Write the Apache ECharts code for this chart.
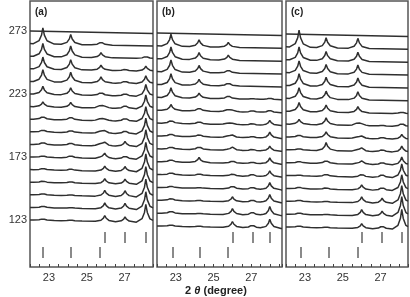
<!DOCTYPE html>
<html><head><meta charset="utf-8">
<script src="https://cdn.jsdelivr.net/npm/echarts@6/dist/echarts.min.js"></script>
<style>html,body{margin:0;padding:0;background:#fff}#c{width:410px;height:297px}</style>
</head><body><div id="c"></div>
<script>
// ---------------- DATA ----------------
const temps = [273,263,253,243,233,223,213,203,193,183,173,163,153,143,133,123];
const yTickLabels = [123,173,223,273];
const xTickLabels = [23,25,27];
const panelNames = ['(a)','(b)','(c)'];
const xTitle = '2 θ (degree)';

// panel (a): peak positions (deg) and peak heights per temperature (top -> bottom)
const aPos = [22.68, 24.15, 25.75, 25.95, 27.02, 28.12];
const aP1 = [0,16,13,12,12, 8, 5, 4, 3, 3, 2, 2, 2, 2, 2, 2];
const aP2 = [0,10,11,10,10, 7, 5, 4, 3, 3, 3, 2, 2, 1, 1, 1];
const aP3 = [0, 4, 5, 5, 6, 4, 4, 3, 3, 3, 1, 0, 0, 0, 0, 0];
const aP4 = [0, 0, 0, 0, 0, 0, 1, 1, 2, 3, 5, 5, 5, 6, 6, 6];
const aP5 = [0, 0, 0, 2, 3, 3, 4, 4, 4, 5, 4, 5, 5, 6, 6, 5];
const aP6 = [0, 0, 3, 5, 8,12,14,15,16,17,17,18,18,18,18,18];
const aRefUpper = [25.95, 27.02, 28.1];
const aRefLower = [22.7, 24.15, 25.67];

// panel (b)
const bPos = [22.74, 24.23, 25.78, 26.0, 27.05, 27.98];
const bP1 = [0,12,12,12,11,10, 6, 4, 3, 3, 3, 3, 2, 3, 3, 2];
const bP2 = [0, 7, 7, 7, 6, 5, 4, 3, 3, 4, 5, 2, 1, 1, 1, 1];
const bP3 = [0, 5, 5, 4, 4, 4, 3, 2, 2, 1, 0, 0, 0, 0, 0, 0];
const bP4 = [0, 0, 0, 0, 0, 0, 1, 1, 2, 3, 3, 3, 4, 5, 6, 6];
const bP5 = [0, 0, 0, 0, 0, 1, 2, 2, 2, 2, 2, 3, 3, 3, 4, 4];
const bP6 = [0, 0, 0, 0, 0, 2, 3, 5, 6, 5, 6, 6, 7, 8, 9, 9];
const bRefUpper = [26.03, 27.08, 28.0];
const bRefLower = [22.83, 24.26, 25.76];

// panel (c)
const cPos = [22.69, 24.12, 25.8, 26.0, 27.08, 28.12];
const cP1 = [0,17,13,12,12,11, 9, 5, 3, 2, 2, 1, 2, 2, 2, 2];
const cP2 = [0,10, 9, 9, 9, 8, 7, 7, 6, 8, 4, 3, 2, 1, 1, 1];
const cP3 = [0,10, 9, 9, 9, 8, 6, 4, 2, 2, 1, 0, 0, 0, 0, 0];
const cP4 = [0, 0, 0, 0, 0, 0, 0, 1, 2, 3, 3, 4, 5, 6, 6, 5];
const cP5 = [0, 0, 0, 0, 0, 0, 0, 1, 2, 3, 3, 4, 4, 5, 5, 4];
const cP6 = [0, 0, 0, 0, 0, 0, 2, 4, 5, 6, 8,14,16,18,20,20];
const cRefUpper = [26.0, 27.07, 28.13];
const cRefLower = [22.77, 24.24, 25.8];

// ---------------- LAYOUT / STYLE ----------------
const panels = [
  {left:30,  width:123, xmin:22, xmax:28.5,  y123:220, y273:31, pos:aPos, h:[aP1,aP2,aP3,aP4,aP5,aP6], up:aRefUpper, lo:aRefLower, lx:35,  showY:true},
  {left:157, width:125, xmin:22, xmax:28.63, y123:226, y273:33, pos:bPos, h:[bP1,bP2,bP3,bP4,bP5,bP6], up:bRefUpper, lo:bRefLower, lx:162, showY:false},
  {left:286, width:122, xmin:22, xmax:28.45, y123:227, y273:34, pos:cPos, h:[cP1,cP2,cP3,cP4,cP5,cP6], up:cRefUpper, lo:cRefLower, lx:291, showY:false}
];
const GTOP = 1, GBOT = 267;
const PROFILE = [[-0.5,0],[-0.2,0.2],[-0.07,0.55],[0,1],[0.08,0.55],[0.22,0.2],[0.6,0]];
const DROP_PX = 2.5;
const FONT = 'Liberation Sans, Arial, sans-serif';

function profileAt(d){
  for (let i=1;i<PROFILE.length;i++){
    const [x0,y0]=PROFILE[i-1],[x1,y1]=PROFILE[i];
    if (d>=x0 && d<=x1) return y0+(y1-y0)*(d-x0)/(x1-x0);
  }
  return 0;
}

const grid=[], xAxis=[], yAxis=[], series=[], graphic=[];
panels.forEach((P,i)=>{
  const pxPerK = (P.y123-P.y273)/150;
  const kpp = 1/pxPerK;
  grid.push({left:P.left, top:GTOP, width:P.width, height:GBOT-GTOP, show:true,
    borderColor:'#555', borderWidth:1.5, backgroundColor:'#fff'});
  xAxis.push({type:'value', gridIndex:i, min:P.xmin, max:P.xmax, interval:0.5,
    axisLine:{show:false}, splitLine:{show:false},
    axisTick:{show:true, inside:true, length:3, lineStyle:{color:'#444', width:1}},
    axisLabel:{show:true, customValues:xTickLabels, interval:0, margin:5, fontSize:11, color:'#333', fontFamily:FONT,
      formatter:v=>xTickLabels.includes(Math.round(v*1000)/1000)?String(Math.round(v)):''}});
  yAxis.push({type:'value', gridIndex:i,
    min:123-(GBOT-P.y123)*kpp, max:273+(P.y273-GTOP)*kpp,
    axisLine:{show:false}, axisTick:{show:false}, splitLine:{show:false},
    axisLabel:{show:P.showY, customValues:yTickLabels, margin:3, fontSize:11, color:'#333', fontFamily:FONT,
      formatter:v=>yTickLabels.includes(Math.round(v))?String(Math.round(v)):''}});
  // traces
  temps.forEach((T,ti)=>{
    const xs = new Set([P.xmin, P.xmax]);
    P.pos.forEach((p,k)=>{ if(!P.h[k][ti]) return; PROFILE.forEach(([dx])=>{const x=+(p+dx).toFixed(4); if(x>P.xmin&&x<P.xmax) xs.add(x);}); });
    const pts = [...xs].sort((a,b)=>a-b).map(x=>{
      let y = T - DROP_PX*kpp*(x-P.xmin)/(P.xmax-P.xmin);
      P.pos.forEach((p,k)=>{ const h=P.h[k][ti]; if(h) y += h*kpp*profileAt(x-p); });
      return [x,y];
    });
    series.push({type:'line', xAxisIndex:i, yAxisIndex:i, data:pts, showSymbol:false, symbol:'none',
      lineStyle:{color:'#2f2f2f', width:1.5}, animation:false, silent:true, clip:true, z:3});
  });
  // reference bars
  const v = y => 123-(y-P.y123)*kpp;
  const md = [];
  P.up.forEach(x=>md.push([{coord:[x,v(232)]},{coord:[x,v(243)]}]));
  P.lo.forEach(x=>md.push([{coord:[x,v(247)]},{coord:[x,v(258)]}]));
  series.push({type:'line', xAxisIndex:i, yAxisIndex:i, data:[], animation:false, silent:true,
    markLine:{symbol:['none','none'], label:{show:false}, animation:false, silent:true,
      lineStyle:{color:'#8a8a8a', width:2, type:'solid'}, data:md}});
  graphic.push({type:'text', x:P.lx, y:12, style:{text:panelNames[i], font:'bold 10px '+FONT, fill:'#222', verticalAlign:'middle', align:'left'}});
});
graphic.push({type:'text', x:216, y:291, style:{text:'{b|2 }{i|θ}{b| (degree)}', align:'center', verticalAlign:'middle',
  rich:{b:{font:'bold 11px '+FONT, fill:'#222'}, i:{font:'italic bold 11px '+FONT, fill:'#222'}}}});

const chart = echarts.init(document.getElementById('c'), null, {renderer:'canvas'});
chart.setOption({animation:false, grid, xAxis, yAxis, series, graphic});
</script></body></html>
